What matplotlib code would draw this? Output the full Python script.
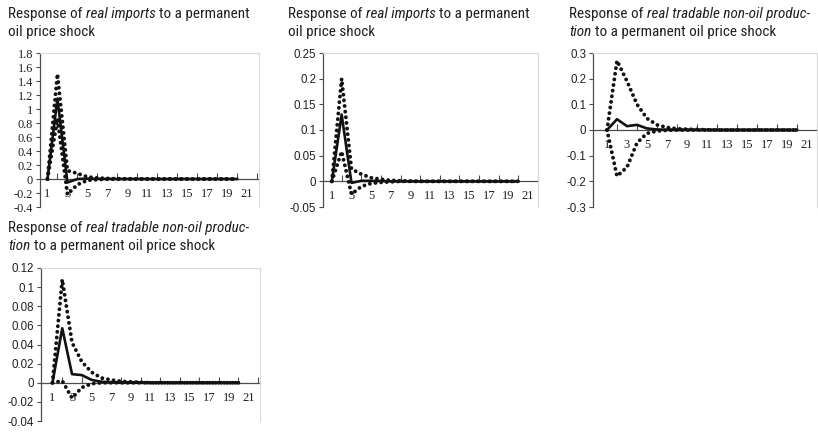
import matplotlib
matplotlib.use("Agg")
import matplotlib.pyplot as plt
from matplotlib import font_manager as fm

# ---------------- data ----------------
periods = list(range(1, 21))

# Panel 1: real imports (large scale)
p1_mid = [0, 1.15, -0.05, 0.0, 0.005, 0.002, 0.001, 0, 0, 0, 0, 0, 0, 0, 0, 0, 0, 0, 0, 0]
p1_up = [0, 1.5, 0.12, 0.08, 0.03, 0.015, 0.008, 0.004, 0.002, 0.001, 0, 0, 0, 0, 0, 0, 0, 0, 0, 0]
p1_lo = [0, 0.86, -0.22, -0.08, -0.02, -0.008, -0.003, -0.001, 0, 0, 0, 0, 0, 0, 0, 0, 0, 0, 0, 0]

# Panel 2: real imports (small scale)
p2_mid = [0, 0.13, -0.003, 0.001, 0.001, 0.0005, 0, 0, 0, 0, 0, 0, 0, 0, 0, 0, 0, 0, 0, 0]
p2_up = [0, 0.2, 0.024, 0.014, 0.007, 0.004, 0.002, 0.001, 0.0005, 0, 0, 0, 0, 0, 0, 0, 0, 0, 0, 0]
p2_lo = [0, 0.058, -0.025, -0.01, -0.004, -0.002, -0.001, 0, 0, 0, 0, 0, 0, 0, 0, 0, 0, 0, 0, 0]

# Panel 3: real tradable non-oil production
p3_mid = [0, 0.042, 0.015, 0.02, 0.006, 0.002, 0.001, 0, 0, 0, 0, 0, 0, 0, 0, 0, 0, 0, 0, 0]
p3_up = [0, 0.27, 0.19, 0.10, 0.045, 0.02, 0.01, 0.005, 0.003, 0.002, 0.001, 0, 0, 0, 0, 0, 0, 0, 0, 0]
p3_lo = [0, -0.18, -0.145, -0.05, -0.013, -0.004, -0.001, 0, 0, 0, 0, 0, 0, 0, 0, 0, 0, 0, 0, 0]

# Panel 4: real tradable non-oil production
p4_mid = [0, 0.057, 0.009, 0.008, 0.003, 0.001, 0.0005, 0, 0, 0, 0, 0, 0, 0, 0, 0, 0, 0, 0, 0]
p4_up = [0, 0.108, 0.042, 0.022, 0.011, 0.005, 0.003, 0.0015, 0.001, 0.0005, 0, 0, 0, 0, 0, 0, 0, 0, 0, 0]
p4_lo = [0, 0.002, -0.016, -0.005, -0.001, 0, 0, 0, 0, 0, 0, 0, 0, 0, 0, 0, 0, 0, 0, 0]

x_label_pos = list(range(1, 22, 2))
x_labels = [str(v) for v in x_label_pos]
x_tick_pos = list(range(2, 23, 2))

p1_yticks = [-0.4, -0.2, 0, 0.2, 0.4, 0.6, 0.8, 1, 1.2, 1.4, 1.6, 1.8]
p1_ylabels = ["-0.4", "-0.2", "0", "0.2", "0.4", "0.6", "0.8", "1", "1.2", "1.4", "1.6", "1.8"]
p2_yticks = [-0.05, 0, 0.05, 0.1, 0.15, 0.2, 0.25]
p2_ylabels = ["-0.05", "0", "0.05", "0.1", "0.15", "0.2", "0.25"]
p3_yticks = [-0.3, -0.2, -0.1, 0, 0.1, 0.2, 0.3]
p3_ylabels = ["-0.3", "-0.2", "-0.1", "0", "0.1", "0.2", "0.3"]
p4_yticks = [-0.04, -0.02, 0, 0.02, 0.04, 0.06, 0.08, 0.1, 0.12]
p4_ylabels = ["-0.04", "-0.02", "0", "0.02", "0.04", "0.06", "0.08", "0.1", "0.12"]

title_imports = [[("Response of", False), ("real imports", True), ("to a permanent", False)],
                 [("oil price shock", False)]]
title_prod = [[("Response of", False), ("real tradable non-oil produc-", True)],
              [("tion", True), ("to a permanent oil price shock", False)]]

# ---------------- figure ----------------
W, H = 818, 433
fig = plt.figure(figsize=(W / 100, H / 100), dpi=100)
fig.patch.set_facecolor("white")

names = {f.name for f in fm.fontManager.ttflist}
if "Liberation Sans Narrow" in names:
    TFAM, TSTRETCH = "Liberation Sans Narrow", "normal"
elif "Roboto Condensed" in names:
    TFAM, TSTRETCH = "Roboto Condensed", "normal"
else:
    TFAM, TSTRETCH = "DejaVu Sans", "condensed"

TXT = "#231f20"
AXC = "#4d4d4d"
LINEC = "#111111"

renderer = fig.canvas.get_renderer()


def text_width(s, size, italic=False):
    t = fig.text(0, 0, s, fontsize=size, family=TFAM, stretch=TSTRETCH,
                 style="italic" if italic else "normal")
    w = t.get_window_extent(renderer).width
    t.remove()
    return w


def line_width(segs, size):
    sp = text_width("a a", size) - text_width("aa", size)
    return sum(text_width(s, size, it) for s, it in segs) + sp * (len(segs) - 1)


base = 10.0
TSIZE = base * 240.0 / line_width(title_imports[0], base)


def draw_title(x_px, baselines, lines):
    sp = text_width("a a", TSIZE) - text_width("aa", TSIZE)
    for segs, yb in zip(lines, baselines):
        cur = x_px
        for s, it in segs:
            t = fig.text(cur / W, 1 - yb / H, s, fontsize=TSIZE, family=TFAM,
                         stretch=TSTRETCH, style="italic" if it else "normal",
                         va="baseline", ha="left", color=TXT)
            cur = t.get_window_extent(renderer).x1 + sp


def make_panel(rect_px, xlim, ylim, yticks, ylabels, mid, up, lo, yserif=False):
    l, r, t, b = rect_px
    ax = fig.add_axes([l / W, 1 - b / H, (r - l) / W, (b - t) / H])
    ax.set_facecolor("white")
    dot = dict(color=LINEC, lw=2.8, linestyle=(0, (0.01, 1.45)),
               dash_capstyle="round", solid_capstyle="round", zorder=3)
    ax.plot(periods, up, **dot)
    ax.plot(periods, lo, **dot)
    ax.plot(periods, mid, color=LINEC, lw=1.9, zorder=4)
    ax.set_xlim(*xlim)
    ax.set_ylim(*ylim)
    for s in ("top", "right"):
        ax.spines[s].set_color("#d9d9d9")
        ax.spines[s].set_linewidth(0.8)
    ax.spines["left"].set_color(AXC)
    ax.spines["left"].set_linewidth(0.9)
    ax.spines["bottom"].set_position(("data", 0))
    ax.spines["bottom"].set_color(AXC)
    ax.spines["bottom"].set_linewidth(0.9)
    ax.spines["bottom"].set_zorder(2)
    ax.set_xticks(x_tick_pos)
    ax.set_xticklabels([""] * len(x_tick_pos))
    ax.set_xticks(x_label_pos, minor=True)
    ax.set_xticklabels(x_labels, minor=True, family="Liberation Serif", fontsize=9, color=TXT)
    ax.tick_params(axis="x", which="major", direction="in", length=4, width=0.8, color=AXC)
    ax.tick_params(axis="x", which="minor", length=0, pad=6.5)
    ax.set_yticks(yticks)
    ax.set_yticklabels(ylabels, family="Liberation Serif" if yserif else "Liberation Sans",
                       fontsize=8.8 if yserif else 8.3, color=TXT)
    ax.tick_params(axis="y", direction="out", length=3, width=0.8, color=AXC, pad=2)
    return ax


make_panel((40, 259, 53, 207), (0.25, 22.2), (-0.4, 1.8), p1_yticks, p1_ylabels,
           p1_mid, p1_up, p1_lo, yserif=True)
make_panel((323, 538, 53, 207), (0.1, 22.0), (-0.05, 0.25), p2_yticks, p2_ylabels,
           p2_mid, p2_up, p2_lo)
make_panel((593, 817, 53, 207), (-0.4, 21.9), (-0.3, 0.3), p3_yticks, p3_ylabels,
           p3_mid, p3_up, p3_lo)
make_panel((41, 260, 268, 421), (-0.17, 22.2), (-0.04, 0.12), p4_yticks, p4_ylabels,
           p4_mid, p4_up, p4_lo)

draw_title(8, (18, 36), title_imports)
draw_title(288, (18, 36), title_imports)
draw_title(569, (18, 36), title_prod)
draw_title(8, (232, 250), title_prod)

fig.savefig("out.png", dpi=100, facecolor="white")
